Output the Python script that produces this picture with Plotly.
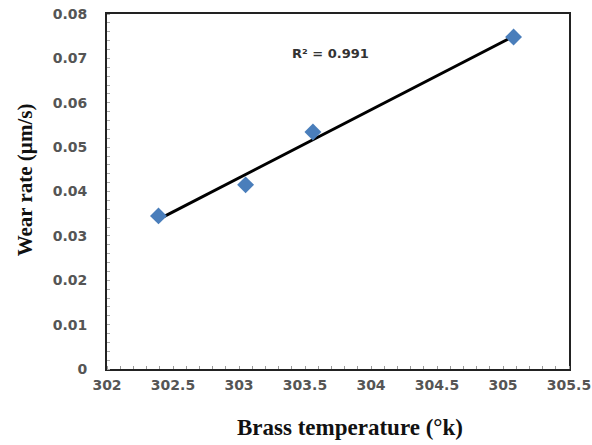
import numpy as np
import plotly.graph_objects as go

temperature = [302.39, 303.05, 303.56, 305.08]
wear_rate = [0.0345, 0.0415, 0.0534, 0.0748]
x_ticks = [302, 302.5, 303, 303.5, 304, 304.5, 305, 305.5]
y_ticks = [0, 0.01, 0.02, 0.03, 0.04, 0.05, 0.06, 0.07, 0.08]
r2_label = "R² = 0.991"
x_title = "Brass temperature (°k)"
y_title = "Wear rate (µm/s)"

slope, intercept = np.polyfit(temperature, wear_rate, 1)
fit_x = [min(temperature), max(temperature)]
fit_y = [slope * v + intercept for v in fit_x]

fig = go.Figure()
fig.add_trace(go.Scatter(x=fit_x, y=fit_y, mode="lines",
                         line=dict(color="black", width=3), showlegend=False))
fig.add_trace(go.Scatter(x=temperature, y=wear_rate, mode="markers",
                         marker=dict(symbol="diamond", size=13, color="#4A7EBB"),
                         showlegend=False))
fig.add_annotation(x=303.69, y=0.071, text=r2_label, showarrow=False,
                   font=dict(family="DejaVu Sans", size=13, color="#333333", weight="bold"),
                   xanchor="center", yanchor="middle")
fig.add_annotation(xref="paper", yref="paper", x=0.526, y=-0.166, text=x_title,
                   showarrow=False, xanchor="center", yanchor="middle",
                   font=dict(family="Liberation Serif", size=23, color="#111111", weight="bold"))
fig.add_annotation(xref="paper", yref="paper", x=-0.177, y=0.532, text=y_title,
                   showarrow=False, xanchor="center", yanchor="middle", textangle=-90,
                   font=dict(family="Liberation Serif", size=21, color="#111111", weight="bold"))

tickfont = dict(family="DejaVu Sans", size=14, color="#555555", weight="bold")
fig.update_layout(
    width=592, height=445,
    margin=dict(l=107, r=23, t=14, b=76),
    paper_bgcolor="white", plot_bgcolor="white",
    xaxis=dict(range=[302, 305.5], tickvals=x_ticks, automargin=False,
               ticktext=[f"{v:g}" for v in x_ticks],
               showgrid=False, zeroline=False, showline=True, mirror=True,
               linecolor="#222222", linewidth=2, ticks="", ticklabelstandoff=2,
               tickfont=tickfont,
               minor=dict(dtick=0.1, ticks="inside", ticklen=3, tickcolor="#999999")),
    yaxis=dict(range=[0, 0.08], tickvals=y_ticks, automargin=False,
               ticktext=[f"{v:g}" for v in y_ticks],
               showgrid=False, zeroline=False, showline=True, mirror=True,
               linecolor="#222222", linewidth=2, ticks="", ticklabelstandoff=15,
               tickfont=tickfont,
               minor=dict(dtick=0.002, ticks="inside", ticklen=3, tickcolor="#aaaaaa")),
)
fig.write_html("out.html", config={"displayModeBar": False},
               post_script="document.body.style.margin='0';document.body.style.overflow='hidden';")
